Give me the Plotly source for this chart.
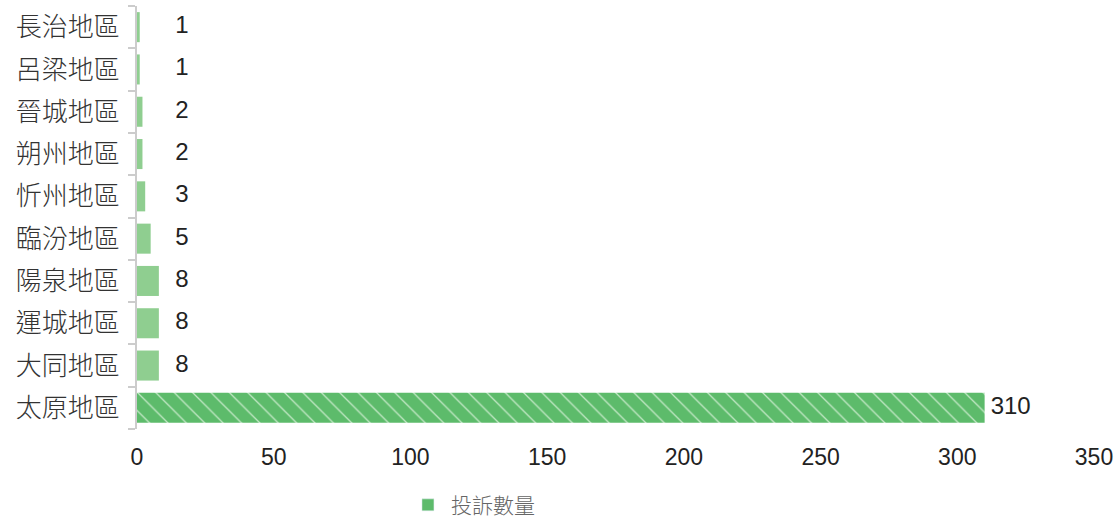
import plotly.graph_objects as go
import numpy as np

# data (bottom to top)
regions = ["太原地區", "大同地區", "運城地區", "陽泉地區", "臨汾地區", "忻州地區", "朔州地區", "晉城地區", "呂梁地區", "長治地區"]
complaints = [310, 8, 8, 8, 5, 3, 2, 2, 1, 1]
series_name = "投訴數量"
x_ticks = [0, 50, 100, 150, 200, 250, 300, 350]

LIGHT = "#8fce90"
DARK = "#5dbb6b"
STRIPE = "#c3e8c6"
LABEL_MIN = 14   # labels of tiny bars sit at a common column
LABEL_GAP = 2.2  # gap between long bars and their label (data units)

top = max(complaints)
top_regions = [r for r, v in zip(regions, complaints) if v == top]
top_vals = [v for v in complaints if v == top]
rest_regions = [r for r, v in zip(regions, complaints) if v != top]
rest_vals = [v for v in complaints if v != top]

NUM_FONT = "Liberation Sans, Noto Sans CJK TC, sans-serif"
CJK_FONT = "Noto Sans CJK TC, sans-serif"

fig = go.Figure()
fig.add_trace(go.Bar(
    x=rest_vals, y=rest_regions, orientation="h", name=series_name,
    marker=dict(color=LIGHT, line=dict(width=0)),
    width=0.71, showlegend=False, hoverinfo="x+y",
))
fig.add_trace(go.Bar(
    x=top_vals, y=top_regions, orientation="h", name=series_name,
    marker=dict(color=DARK, line=dict(width=0),
                pattern=dict(shape="\\", fgcolor=STRIPE, bgcolor=DARK, fgopacity=1,
                             size=13, solidity=0.1, fillmode="replace")),
    width=0.71, showlegend=False, hoverinfo="x+y",
))
fig.add_trace(go.Scatter(
    x=np.maximum(np.array(complaints) + LABEL_GAP, LABEL_MIN), y=regions, mode="text",
    text=[str(v) for v in complaints], textposition="middle right",
    textfont=dict(size=24, color="#222222", family=NUM_FONT),
    showlegend=False, hoverinfo="skip",
))
# legend entry
fig.add_trace(go.Bar(x=[None], y=[None], orientation="h", name=series_name,
                     marker=dict(color=DARK), showlegend=True))

fig.update_layout(
    width=1118, height=523,
    margin=dict(l=137, r=24, t=6, b=94),
    paper_bgcolor="white", plot_bgcolor="white",
    font=dict(family=NUM_FONT, color="#333333"),
    barmode="overlay",
    legend=dict(orientation="h", x=0.28, xanchor="left",
                yref="container", y=0.034, yanchor="middle",
                font=dict(size=21, color="#666666", family=CJK_FONT, weight=300), itemwidth=36),
    xaxis=dict(range=[0, 350], tickvals=x_ticks, showgrid=False, zeroline=False,
               showline=False, ticks="", tickfont=dict(size=23, color="#222222"),
               ticklabelstandoff=12, fixedrange=True, automargin=False),
    yaxis=dict(type="category", categoryorder="array", categoryarray=regions,
               showline=True, linecolor="#cccccc", linewidth=2,
               ticks="outside", tickson="boundaries", ticklen=7, tickcolor="#cccccc", tickwidth=2,
               tickfont=dict(size=26, color="#333333", family=CJK_FONT, weight=300),
               ticklabelstandoff=10,
               showgrid=False, zeroline=False, fixedrange=True, automargin=False),
)

fig.write_html("out.html")
